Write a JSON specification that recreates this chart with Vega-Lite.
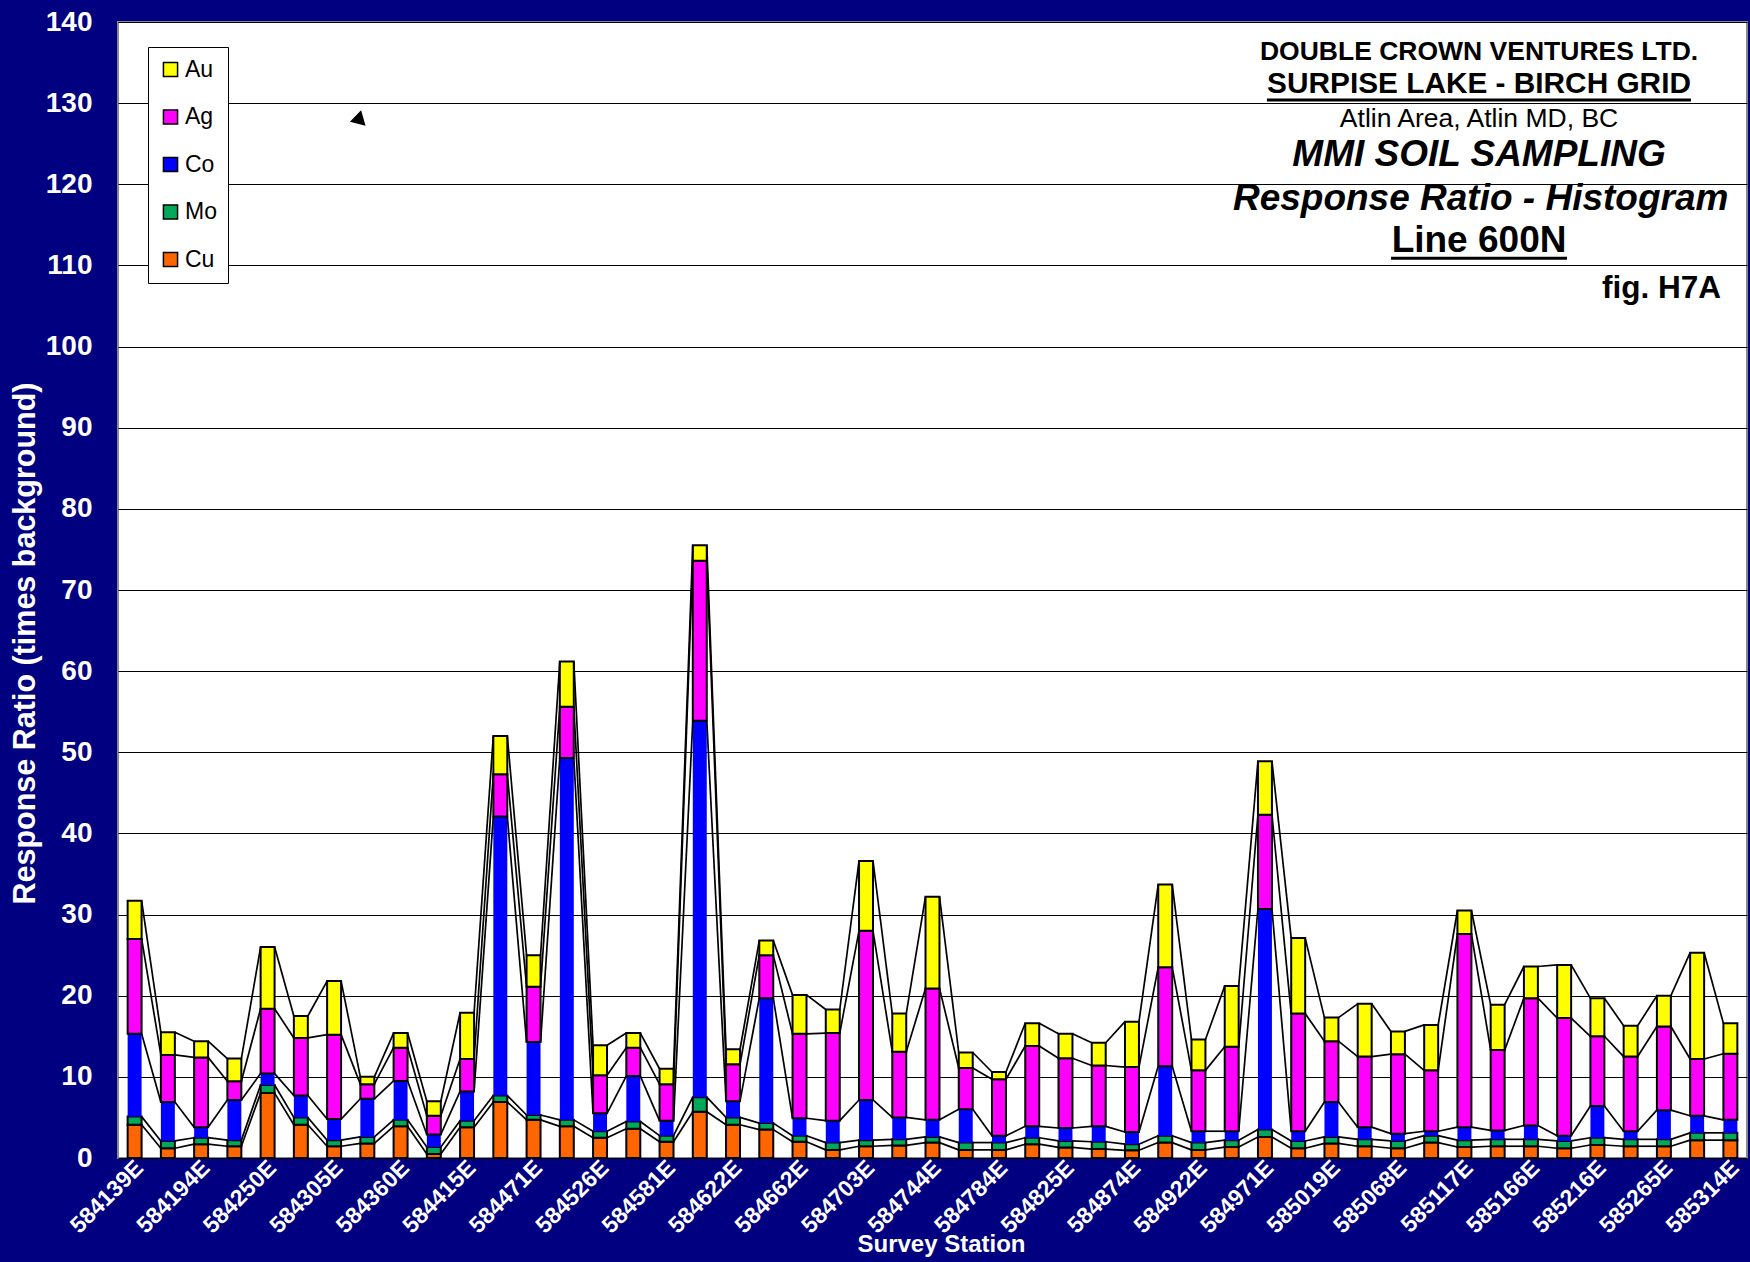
{
  "$schema": "https://vega.github.io/schema/vega-lite/v6.json",
  "width": 1629,
  "height": 1136,
  "autosize": {"type": "none"},
  "padding": {"left": 118, "top": 22, "right": 3, "bottom": 104},
  "background": "#000080",
  "config": {
    "font": "Liberation Sans",
    "view": {"fill": "white", "stroke": "#8a8a8a", "strokeWidth": 2}
  },
  "resolve": {"scale": {"x": "independent"}},
  "layer": [
    {
      "data": {
        "values": [
          {"station": "584139E", "Cu": 4.1, "Mo": 1.0, "Co": 10.2, "Ag": 11.7, "Au": 4.7},
          {"station": "584166E", "Cu": 1.2, "Mo": 0.9, "Co": 4.8, "Ag": 5.8, "Au": 2.8},
          {"station": "584194E", "Cu": 1.7, "Mo": 0.8, "Co": 1.3, "Ag": 8.6, "Au": 2.0},
          {"station": "584222E", "Cu": 1.45, "Mo": 0.75, "Co": 4.95, "Ag": 2.3, "Au": 2.8},
          {"station": "584250E", "Cu": 8.0, "Mo": 1.0, "Co": 1.4, "Ag": 8.0, "Au": 7.6},
          {"station": "584277E", "Cu": 4.1, "Mo": 0.9, "Co": 2.7, "Ag": 7.1, "Au": 2.7},
          {"station": "584305E", "Cu": 1.45, "Mo": 0.75, "Co": 2.6, "Ag": 10.4, "Au": 6.6},
          {"station": "584332E", "Cu": 1.8, "Mo": 0.8, "Co": 4.7, "Ag": 1.8, "Au": 0.9},
          {"station": "584360E", "Cu": 3.9, "Mo": 0.8, "Co": 4.8, "Ag": 4.1, "Au": 1.8},
          {"station": "584387E", "Cu": 0.5, "Mo": 0.85, "Co": 1.55, "Ag": 2.3, "Au": 1.8},
          {"station": "584415E", "Cu": 3.8, "Mo": 0.8, "Co": 3.6, "Ag": 4.0, "Au": 5.7},
          {"station": "584443E", "Cu": 6.9, "Mo": 0.8, "Co": 34.4, "Ag": 5.2, "Au": 4.7},
          {"station": "584471E", "Cu": 4.7, "Mo": 0.6, "Co": 9.0, "Ag": 6.8, "Au": 3.9},
          {"station": "584498E", "Cu": 3.9, "Mo": 0.8, "Co": 44.6, "Ag": 6.3, "Au": 5.6},
          {"station": "584526E", "Cu": 2.5, "Mo": 0.8, "Co": 2.2, "Ag": 4.7, "Au": 3.7},
          {"station": "584553E", "Cu": 3.6, "Mo": 0.9, "Co": 5.6, "Ag": 3.5, "Au": 1.8},
          {"station": "584581E", "Cu": 2.0, "Mo": 0.75, "Co": 1.85, "Ag": 4.5, "Au": 1.9},
          {"station": "584601E", "Cu": 5.7, "Mo": 1.8, "Co": 46.4, "Ag": 19.7, "Au": 1.9},
          {"station": "584622E", "Cu": 4.1, "Mo": 0.9, "Co": 2.0, "Ag": 4.55, "Au": 1.85},
          {"station": "584642E", "Cu": 3.5, "Mo": 0.8, "Co": 15.4, "Ag": 5.3, "Au": 1.8},
          {"station": "584662E", "Cu": 2.0, "Mo": 0.75, "Co": 2.15, "Ag": 10.4, "Au": 4.8},
          {"station": "584682E", "Cu": 1.0, "Mo": 0.9, "Co": 2.7, "Ag": 10.8, "Au": 2.9},
          {"station": "584703E", "Cu": 1.45, "Mo": 0.75, "Co": 4.95, "Ag": 20.85, "Au": 8.6},
          {"station": "584723E", "Cu": 1.55, "Mo": 0.75, "Co": 2.7, "Ag": 8.1, "Au": 4.7},
          {"station": "584744E", "Cu": 1.9, "Mo": 0.7, "Co": 2.1, "Ag": 16.2, "Au": 11.3},
          {"station": "584764E", "Cu": 1.0, "Mo": 0.9, "Co": 4.1, "Ag": 5.1, "Au": 1.9},
          {"station": "584784E", "Cu": 1.0, "Mo": 0.9, "Co": 0.85, "Ag": 6.95, "Au": 0.9},
          {"station": "584804E", "Cu": 1.7, "Mo": 0.8, "Co": 1.4, "Ag": 9.9, "Au": 2.8},
          {"station": "584825E", "Cu": 1.3, "Mo": 0.8, "Co": 1.6, "Ag": 8.6, "Au": 3.0},
          {"station": "584849E", "Cu": 1.1, "Mo": 0.9, "Co": 1.9, "Ag": 7.5, "Au": 2.8},
          {"station": "584874E", "Cu": 0.95, "Mo": 0.75, "Co": 1.5, "Ag": 8.0, "Au": 5.6},
          {"station": "584898E", "Cu": 1.9, "Mo": 0.85, "Co": 8.55, "Ag": 12.2, "Au": 10.2},
          {"station": "584922E", "Cu": 1.0, "Mo": 0.9, "Co": 1.4, "Ag": 7.5, "Au": 3.8},
          {"station": "584946E", "Cu": 1.35, "Mo": 0.85, "Co": 1.1, "Ag": 10.4, "Au": 7.5},
          {"station": "584971E", "Cu": 2.6, "Mo": 0.9, "Co": 27.2, "Ag": 11.6, "Au": 6.6},
          {"station": "584995E", "Cu": 1.2, "Mo": 0.9, "Co": 1.2, "Ag": 14.5, "Au": 9.3},
          {"station": "585019E", "Cu": 1.8, "Mo": 0.8, "Co": 4.3, "Ag": 7.5, "Au": 2.9},
          {"station": "585043E", "Cu": 1.45, "Mo": 0.85, "Co": 1.5, "Ag": 8.7, "Au": 6.5},
          {"station": "585068E", "Cu": 1.2, "Mo": 0.9, "Co": 0.9, "Ag": 9.8, "Au": 2.8},
          {"station": "585092E", "Cu": 1.9, "Mo": 0.85, "Co": 0.55, "Ag": 7.5, "Au": 5.6},
          {"station": "585117E", "Cu": 1.35, "Mo": 0.85, "Co": 1.6, "Ag": 23.8, "Au": 2.9},
          {"station": "585141E", "Cu": 1.45, "Mo": 0.85, "Co": 1.1, "Ag": 9.9, "Au": 5.6},
          {"station": "585166E", "Cu": 1.45, "Mo": 0.85, "Co": 1.7, "Ag": 15.7, "Au": 3.9},
          {"station": "585191E", "Cu": 1.2, "Mo": 0.9, "Co": 0.65, "Ag": 14.5, "Au": 6.55},
          {"station": "585216E", "Cu": 1.6, "Mo": 0.9, "Co": 3.9, "Ag": 8.6, "Au": 4.7},
          {"station": "585240E", "Cu": 1.45, "Mo": 0.85, "Co": 1.0, "Ag": 9.2, "Au": 3.8},
          {"station": "585265E", "Cu": 1.45, "Mo": 0.85, "Co": 3.6, "Ag": 10.3, "Au": 3.8},
          {"station": "585289E", "Cu": 2.2, "Mo": 0.9, "Co": 2.1, "Ag": 7.0, "Au": 13.1},
          {"station": "585314E", "Cu": 2.2, "Mo": 0.9, "Co": 1.6, "Ag": 8.15, "Au": 3.75}
        ]
      },
      "transform": [
        {"fold": ["Cu", "Mo", "Co", "Ag", "Au"], "as": ["element", "value"]},
        {"calculate": "indexof(['Cu','Mo','Co','Ag','Au'], datum.element)", "as": "ord"}
      ],
      "layer": [
        {
          "mark": {"type": "bar", "stroke": "black"},
          "encoding": {
            "x": {
              "field": "station",
              "type": "nominal",
              "scale": {"paddingInner": 0.58, "paddingOuter": 0.29},
              "axis": {
                "values": ["584139E", "584194E", "584250E", "584305E", "584360E", "584415E", "584471E", "584526E", "584581E", "584622E", "584662E", "584703E", "584744E", "584784E", "584825E", "584874E", "584922E", "584971E", "585019E", "585068E", "585117E", "585166E", "585216E", "585265E", "585314E"],
                "labelAngle": -45,
                "labelAlign": "right",
                "labelBaseline": "middle",
                "labelFontSize": 23,
                "labelFontWeight": "bold",
                "labelColor": "white",
                "labelPadding": 6,
                "labelOffset": 5,
                "labelOverlap": false,
                "ticks": false,
                "domain": false,
                "grid": false,
                "title": "Survey Station",
                "titleFontSize": 24,
                "titleFontWeight": "bold",
                "titleColor": "white",
                "titleX": 823,
                "titleY": 86,
                "titleAlign": "center",
                "titleBaseline": "middle"
              }
            },
            "y": {
              "field": "value",
              "type": "quantitative",
              "scale": {"domain": [0, 140], "nice": false},
              "axis": {
                "values": [0, 10, 20, 30, 40, 50, 60, 70, 80, 90, 100, 110, 120, 130, 140],
                "title": "Response Ratio (times background)",
                "titleFontSize": 30.5,
                "titleFontWeight": "bold",
                "titleColor": "white",
                "titleX": -93,
                "titleY": 621,
                "titleAlign": "center",
                "titleBaseline": "middle",
                "labelFontSize": 28,
                "labelFontWeight": "bold",
                "labelColor": "white",
                "labelPadding": 26,
                "ticks": false,
                "domain": false,
                "grid": true,
                "gridColor": "black",
                "gridWidth": 1,
                "gridOpacity": 1
              }
            },
            "color": {
              "field": "element",
              "type": "nominal",
              "scale": {
                "domain": ["Au", "Ag", "Co", "Mo", "Cu"],
                "range": ["#FFFF00", "#FF00FF", "#0000FF", "#00A859", "#FF6600"]
              },
              "legend": {
                "title": null,
                "orient": "none",
                "legendX": 30,
                "legendY": 25,
                "fillColor": "white",
                "strokeColor": "black",
                "padding": 11,
                "symbolType": "square",
                "symbolSize": 200,
                "symbolOpacity": 1,
                "labelFontSize": 23,
                "labelColor": "black",
                "labelOffset": 3,
                "rowPadding": 23.5,
                "encode": {
                  "symbols": {
                    "update": {
                      "stroke": {"value": "black"},
                      "strokeWidth": {"signal": "datum.value === 'Co' ? 0 : 2"}
                    }
                  }
                }
              }
            },
            "order": {"field": "ord", "type": "quantitative"},
            "strokeWidth": {"condition": {"test": "datum.element === 'Co'", "value": 0}, "value": 2}
          }
        },
        {
          "transform": [
            {"window": [{"op": "sum", "field": "value", "as": "top"}], "groupby": ["station"], "sort": [{"field": "ord"}], "frame": [null, 0]},
            {"window": [{"op": "lead", "field": "station", "as": "next_station"}, {"op": "lead", "field": "top", "as": "next_top"}], "groupby": ["element"], "sort": [{"field": "station"}], "frame": [null, null]},
            {"filter": "datum.next_station != null"}
          ],
          "mark": {"type": "rule", "color": "black", "strokeWidth": 1.7, "xOffset": 7, "x2Offset": -7},
          "encoding": {
            "x": {"field": "station", "type": "nominal"},
            "x2": {"field": "next_station"},
            "y": {"field": "top", "type": "quantitative"},
            "y2": {"field": "next_top"}
          }
        }
      ]
    },
    {
      "data": {"values": [{"k": 1}]},
      "layer": [
        {
          "mark": {"type": "text", "text": "DOUBLE CROWN VENTURES LTD.", "fontSize": 26.5, "fontWeight": "bold", "align": "center", "baseline": "alphabetic", "color": "black"},
          "encoding": {"x": {"datum": 0.8355, "type": "quantitative", "scale": {"domain": [0, 1]}, "axis": null}, "y": {"datum": 135.3, "type": "quantitative"}}
        },
        {
          "mark": {"type": "text", "text": "SURPISE LAKE - BIRCH GRID", "fontSize": 29.8, "fontWeight": "bold", "align": "center", "baseline": "alphabetic", "color": "black"},
          "encoding": {"x": {"datum": 0.8355, "type": "quantitative", "scale": {"domain": [0, 1]}, "axis": null}, "y": {"datum": 131.2, "type": "quantitative"}}
        },
        {
          "mark": {"type": "rule", "color": "black", "strokeWidth": 3},
          "encoding": {"x": {"datum": 0.7053, "type": "quantitative", "scale": {"domain": [0, 1]}, "axis": null}, "x2": {"datum": 0.9656}, "y": {"datum": 130.4, "type": "quantitative"}}
        },
        {
          "mark": {"type": "text", "text": "Atlin Area, Atlin MD, BC", "fontSize": 26.5, "fontWeight": "normal", "align": "center", "baseline": "alphabetic", "color": "black"},
          "encoding": {"x": {"datum": 0.8355, "type": "quantitative", "scale": {"domain": [0, 1]}, "axis": null}, "y": {"datum": 127.1, "type": "quantitative"}}
        },
        {
          "mark": {"type": "text", "text": "MMI SOIL SAMPLING", "fontSize": 37, "fontWeight": "bold", "fontStyle": "italic", "align": "center", "baseline": "alphabetic", "color": "black"},
          "encoding": {"x": {"datum": 0.8355, "type": "quantitative", "scale": {"domain": [0, 1]}, "axis": null}, "y": {"datum": 122.2, "type": "quantitative"}}
        },
        {
          "mark": {"type": "text", "text": "Response Ratio - Histogram", "fontSize": 37, "fontWeight": "bold", "fontStyle": "italic", "align": "center", "baseline": "alphabetic", "color": "black"},
          "encoding": {"x": {"datum": 0.8365, "type": "quantitative", "scale": {"domain": [0, 1]}, "axis": null}, "y": {"datum": 116.8, "type": "quantitative"}}
        },
        {
          "mark": {"type": "text", "text": "Line 600N", "fontSize": 37, "fontWeight": "bold", "align": "center", "baseline": "alphabetic", "color": "black"},
          "encoding": {"x": {"datum": 0.8355, "type": "quantitative", "scale": {"domain": [0, 1]}, "axis": null}, "y": {"datum": 111.7, "type": "quantitative"}}
        },
        {
          "mark": {"type": "rule", "color": "black", "strokeWidth": 3},
          "encoding": {"x": {"datum": 0.7815, "type": "quantitative", "scale": {"domain": [0, 1]}, "axis": null}, "x2": {"datum": 0.8895}, "y": {"datum": 110.9, "type": "quantitative"}}
        },
        {
          "mark": {"type": "text", "text": "fig. H7A", "fontSize": 31.5, "fontWeight": "bold", "align": "right", "baseline": "alphabetic", "color": "black"},
          "encoding": {"x": {"datum": 0.984, "type": "quantitative", "scale": {"domain": [0, 1]}, "axis": null}, "y": {"datum": 105.95, "type": "quantitative"}}
        },
        {
          "mark": {"type": "point", "shape": "triangle-up", "filled": true, "color": "black", "size": 260, "angle": 14, "opacity": 1},
          "encoding": {"x": {"datum": 0.1482, "type": "quantitative", "scale": {"domain": [0, 1]}, "axis": null}, "y": {"datum": 128.3, "type": "quantitative"}}
        }
      ]
    }
  ]
}
